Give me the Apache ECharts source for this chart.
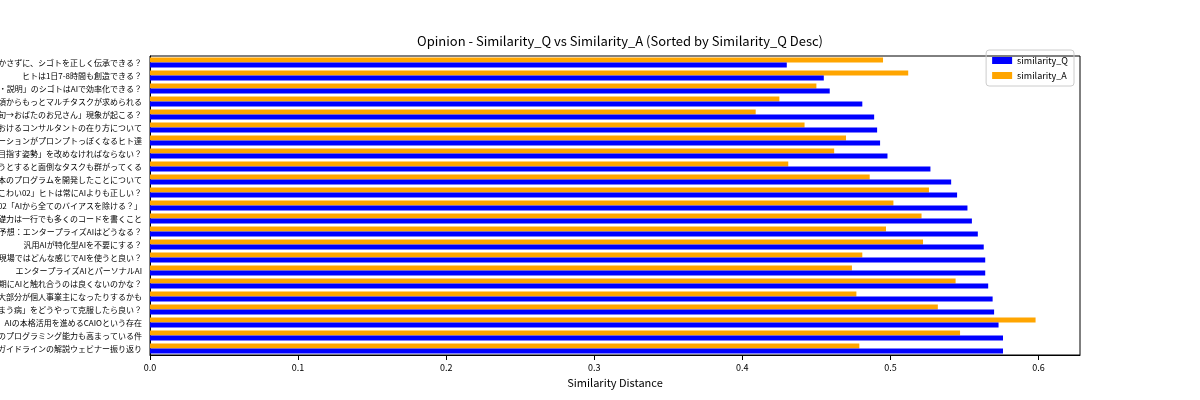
<!DOCTYPE html>
<html><head><meta charset="utf-8">
<script src="https://cdn.jsdelivr.net/npm/echarts@6/dist/echarts.min.js"></script>
<style>html,body{margin:0;background:#fff}#c{width:1200px;height:400px}</style>
</head><body><div id="c"></div>
<script>
const categories = [
"手を動かさずに、シゴトを正しく伝承できる？",
"ヒトは1日7-8時間も創造できる？",
"「調整・説明」のシゴトはAIで効率化できる？",
"若手の頃からもっとマルチタスクが求められる",
"ヒトとAIの間で「小麦旬→おばたのお兄さん」現象が起こる？",
"AIが活躍する時代におけるコンサルタントの在り方について",
"仕事のコミュニケーションがプロンプトっぽくなるヒト達",
"「高すぎる品質を目指す姿勢」を改めなければならない？",
"重要なタスクを進めようとすると面倒なタスクも群がってくる",
"AIを使いながら1日1本のプログラムを開発したことについて",
"「AIこわい02」ヒトは常にAIよりも正しい？",
"AIの正しい理解？02「AIから全てのバイアスを除ける？」",
"ITの基礎力は一行でも多くのコードを書くこと",
"2025年の予想：エンタープライズAIはどうなる？",
"汎用AIが特化型AIを不要にする？",
"教育現場ではどんな感じでAIを使うと良い？",
"エンタープライズAIとパーソナルAI",
"幼少期にAIと触れ合うのは良くないのかな？",
"やがて労働人口の大部分が個人事業主になったりするかも",
"「コードを作り過ぎてしまう病」をどうやって克服したら良い？",
"AIの本格活用を進めるCAIOという存在",
"AIを使い続けていたら、自分のプログラミング能力も高まっている件",
"AI事業者ガイドラインの解説ウェビナー振り返り"];
const similarityQ = [0.430,0.455,0.459,0.481,0.489,0.491,0.493,0.498,0.527,0.541,0.545,0.552,0.555,0.559,0.563,0.564,0.564,0.566,0.569,0.570,0.573,0.576,0.576];
const similarityA = [0.495,0.512,0.450,0.425,0.409,0.442,0.470,0.462,0.431,0.486,0.526,0.502,0.521,0.497,0.522,0.481,0.474,0.544,0.477,0.532,0.598,0.547,0.479];
const xTicks = [0,0.1,0.2,0.3,0.4,0.5,0.6];
const F = '"Noto Sans CJK JP","DejaVu Sans",sans-serif';
const chart = echarts.init(document.getElementById('c'));
chart.setOption({
  animation:false,
  textStyle:{fontFamily:F},
  title:{text:'Opinion - Similarity_Q vs Similarity_A (Sorted by Similarity_Q Desc)',left:615,top:30,textAlign:'center',
    textStyle:{fontSize:13,fontWeight:'normal',color:'#000',fontFamily:F}},
  legend:{data:['similarity_Q','similarity_A'],orient:'vertical',right:126,top:50,itemWidth:20,itemHeight:7,itemGap:6,
    icon:'rect',borderColor:'#ccc',borderWidth:1,borderRadius:3,padding:[6,6],textStyle:{fontSize:9,color:'#000'}},
  grid:{left:150,right:120,top:56,bottom:45,containLabel:false,outerBoundsMode:'none',show:true,borderColor:'#000',borderWidth:1},
  xAxis:{type:'value',min:0,max:0.628,name:'Similarity Distance',nameLocation:'middle',nameGap:22,
    nameTextStyle:{fontSize:11,color:'#000'},
    splitLine:{show:false},axisLine:{show:true,lineStyle:{color:'#000'}},
    axisTick:{show:true,customValues:xTicks,lineStyle:{color:'#000'}},
    axisLabel:{customValues:xTicks,fontSize:9,color:'#000',formatter:v=>v.toFixed(1)}},
  yAxis:{type:'category',data:categories,inverse:true,
    axisLine:{show:true,lineStyle:{color:'#000'}},axisTick:{alignWithLabel:true,lineStyle:{color:'#000'}},
    axisLabel:{fontSize:8,color:'#000',interval:0}},
  series:[
    {name:'similarity_A',type:'bar',data:similarityA,itemStyle:{color:'#ffa500'},barGap:'0%',barCategoryGap:'22%'},
    {name:'similarity_Q',type:'bar',data:similarityQ,itemStyle:{color:'#0000ff'},barGap:'0%',barCategoryGap:'22%'}
  ]
});
</script></body></html>
